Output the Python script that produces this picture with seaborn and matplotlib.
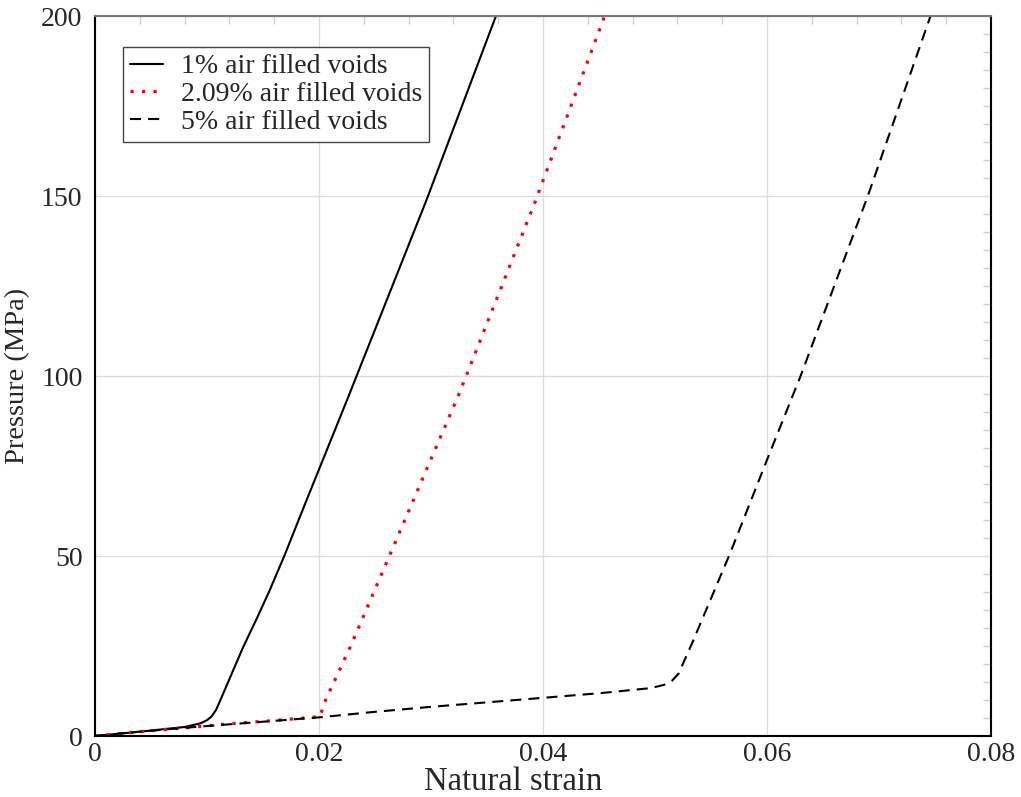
import numpy as np
import pandas as pd
import matplotlib
matplotlib.use("Agg")
import matplotlib.pyplot as plt
import seaborn as sns
from matplotlib.ticker import MultipleLocator

# ---- data ----
labels = ["1% air filled voids", "2.09% air filled voids", "5% air filled voids"]

strain_1 = [0.0, 0.004, 0.008, 0.0094, 0.0100, 0.0104, 0.0108, 0.0112, 0.0120,
            0.0132, 0.0145, 0.0156, 0.0169, 0.0189, 0.0225, 0.0296, 0.0358]
press_1 = [0.0, 1.2, 2.5, 3.5, 4.4, 5.4, 7.2, 10.0, 15.8,
           24.5, 33.0, 40.5, 50.0, 65.6, 93.3, 148.9, 200.0]

strain_2 = [0.0, 0.004, 0.0085, 0.012, 0.016, 0.0201, 0.0205, 0.0228, 0.0325,
            0.0392, 0.0455]
press_2 = [0.0, 1.2, 2.4, 3.4, 4.3, 5.4, 9.4, 24.8, 95.0,
           147.6, 200.0]

strain_5 = [0.0, 0.004, 0.0085, 0.0201, 0.0251, 0.0300, 0.0400, 0.0451, 0.0496,
            0.0508, 0.0515, 0.0521, 0.0533, 0.0567, 0.0600, 0.0630, 0.0690, 0.0746]
press_5 = [0.0, 1.2, 2.4, 5.2, 6.75, 8.1, 10.6, 11.9, 13.3,
           14.2, 15.3, 17.3, 25.7, 50.7, 76.7, 100.0, 150.0, 200.0]

x_ticks = [0, 0.02, 0.04, 0.06, 0.08]
x_tick_labels = ["0", "0.02", "0.04", "0.06", "0.08"]
y_ticks = [0, 50, 100, 150, 200]
y_tick_labels = ["0", "50", "100", "150", "200"]

# ---- style ----
sns.set_theme(style="white")
plt.rcParams["font.family"] = ["Liberation Serif", "DejaVu Serif"]

fig = plt.figure(figsize=(10.21, 7.97), dpi=100)
ax = fig.add_axes([95 / 1021, 1 - 736 / 797, 896 / 1021, 720 / 797])

series = [
    (strain_1, press_1, labels[0], dict(color="black", linewidth=1.5, linestyle="-")),
    (strain_2, press_2, labels[1], dict(color="red", linewidth=2.3, linestyle=(0, (1, 2.6)))),
    (strain_5, press_5, labels[2], dict(color="black", linewidth=1.5, linestyle=(0, (5.3, 3.4)))),
]
for xs, ys, lab, kw in series:
    df = pd.DataFrame({"strain": xs, "pressure": ys})
    sns.lineplot(data=df, x="strain", y="pressure", ax=ax, label=lab,
                 sort=False, estimator=None, **kw)

ax.set_xlim(0, 0.08)
ax.set_ylim(0, 200)
ax.set_xticks(x_ticks)
ax.set_xticklabels(x_tick_labels)
ax.set_yticks(y_ticks)
ax.set_yticklabels(y_tick_labels)
ax.xaxis.set_minor_locator(MultipleLocator(0.004))
ax.yaxis.set_minor_locator(MultipleLocator(5))

ax.grid(True, which="major", color="#dcdcdc", linewidth=1.0)
ax.set_axisbelow(True)
ax.tick_params(which="both", direction="in", top=True, right=True,
               labelsize=20, color="#cfcfcf")
ax.tick_params(which="major", length=0, pad=9)
ax.tick_params(axis="x", which="major", pad=4)
ax.tick_params(which="minor", length=6, width=1.0)

for side in ["left", "bottom", "right"]:
    ax.spines[side].set_color("black")
    ax.spines[side].set_linewidth(1.5)
ax.spines["top"].set_color("#777777")
ax.spines["top"].set_linewidth(1.5)

ax.set_xlabel("Natural strain", fontsize=23.5)
ax.xaxis.set_label_coords((513 - 95) / 896, -0.042)
ax.set_ylabel("Pressure (MPa)", fontsize=20.5, labelpad=8)

leg = ax.legend(loc="upper left", bbox_to_anchor=(0.031, 0.957), borderaxespad=0,
                fontsize=20, frameon=True, fancybox=False, framealpha=1,
                edgecolor="#444444", handlelength=1.2, handletextpad=0.65,
                borderpad=0.25, labelspacing=0.08)
leg.get_frame().set_linewidth(1.0)

fig.savefig("out.png", dpi=100)
